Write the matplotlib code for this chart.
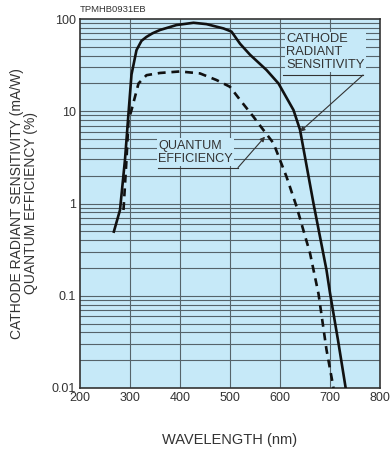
import matplotlib
matplotlib.use("Agg")
import matplotlib.pyplot as plt
import numpy as np

# Data
cathode_wl = [267, 280, 290, 297, 303, 313, 323, 333, 345, 360, 393, 427, 453, 487, 503, 520, 540, 573, 597, 627, 640, 667, 693, 700, 716, 732]
cathode_val = [0.48, 0.85, 3.0, 9.5, 25, 46, 58, 64, 70, 76, 86, 91, 88, 79, 73, 54, 41, 28, 20, 10.3, 6.3, 1.0, 0.19, 0.107, 0.033, 0.0095]

qe_wl = [287, 293, 297, 303, 317, 333, 360, 400, 440, 473, 500, 520, 547, 560, 587, 613, 633, 660, 677, 693, 707]
qe_val = [0.85, 3.0, 8.0, 10.3, 20, 24.6, 26, 27, 25.7, 21.8, 18.4, 13.3, 8.7, 7.0, 4.5, 1.95, 0.93, 0.29, 0.105, 0.026, 0.01]

x_ticks = [200, 300, 400, 500, 600, 700, 800]
y_ticks = [0.01, 0.1, 1, 10, 100]
y_ticklabels = ["0.01", "0.1", "1", "10", "100"]

plt.rcParams['font.family'] = ['Liberation Sans', 'DejaVu Sans']

fig = plt.figure(figsize=(3.9, 4.51), dpi=100)
ax = fig.add_axes([80/390, 1 - 388/451, 300/390, (388-19)/451])
bg = '#c6e9f8'
txtc = '#333333'
ax.set_facecolor(bg)
ax.set_yscale('log')
ax.set_xlim(200, 800)
ax.set_ylim(0.01, 100)

gridc = '#55636a'
for dec in [0.01, 0.1, 1, 10]:
    for m in range(1, 10):
        v = dec * m
        if v > 0.01:
            ax.axhline(v, color=gridc, lw=0.8, zorder=1)
for x in x_ticks[1:-1]:
    ax.axvline(x, color=gridc, lw=0.8, zorder=1)

ax.plot(cathode_wl, cathode_val, color='#111111', lw=1.9, zorder=3, solid_capstyle='butt')
ax.plot(qe_wl, qe_val, color='#111111', lw=1.9, ls=(0, (3, 2.2)), zorder=3)

ax.set_xticks(x_ticks)
ax.set_xticklabels([str(t) for t in x_ticks], fontsize=9, color=txtc)
ax.set_yticks(y_ticks)
ax.set_yticklabels(y_ticklabels, fontsize=9, color=txtc)
ax.yaxis.set_minor_locator(matplotlib.ticker.NullLocator())
ax.tick_params(axis='x', length=0, pad=3)
ax.tick_params(axis='y', length=0, pad=3)
for s in ax.spines.values():
    s.set_color(txtc)
    s.set_linewidth(1.2)

ax.set_xlabel("WAVELENGTH (nm)", fontsize=10.5, color=txtc, labelpad=21)
ax.set_ylabel("CATHODE RADIANT SENSITIVITY (mA/W)\nQUANTUM EFFICIENCY (%)",
              fontsize=10, color=txtc, labelpad=10, linespacing=1.0)

# annotations
ax.text(612, 43.9, "CATHODE\nRADIANT\nSENSITIVITY", fontsize=9.3, color=txtc,
        ha='left', va='center', linespacing=1.1, zorder=4,
        bbox=dict(facecolor=bg, edgecolor='none', pad=1))
ax.plot([606, 766], [24.7, 24.7], color=txtc, lw=0.8, zorder=4)
ax.annotate("", xy=(640, 6.0), xytext=(766, 24.7),
            arrowprops=dict(arrowstyle='-|>', color=txtc, lw=0.8,
                            mutation_scale=7, shrinkA=0, shrinkB=0), zorder=4)

ax.text(356, 3.6, "QUANTUM\nEFFICIENCY", fontsize=9.1, color=txtc,
        ha='left', va='center', linespacing=1.1, zorder=4,
        bbox=dict(facecolor=bg, edgecolor='none', pad=1))
ax.plot([356, 516], [2.45, 2.45], color=txtc, lw=0.8, zorder=4)
ax.annotate("", xy=(570, 5.3), xytext=(516, 2.45),
            arrowprops=dict(arrowstyle='-|>', color=txtc, lw=0.8,
                            mutation_scale=7, shrinkA=0, shrinkB=0), zorder=4)

fig.text(80/390, 1 - 9/451, "TPMHB0931EB", fontsize=6.8, color=txtc, ha='left', va='center')

fig.savefig("out.png", dpi=100, facecolor='white')
